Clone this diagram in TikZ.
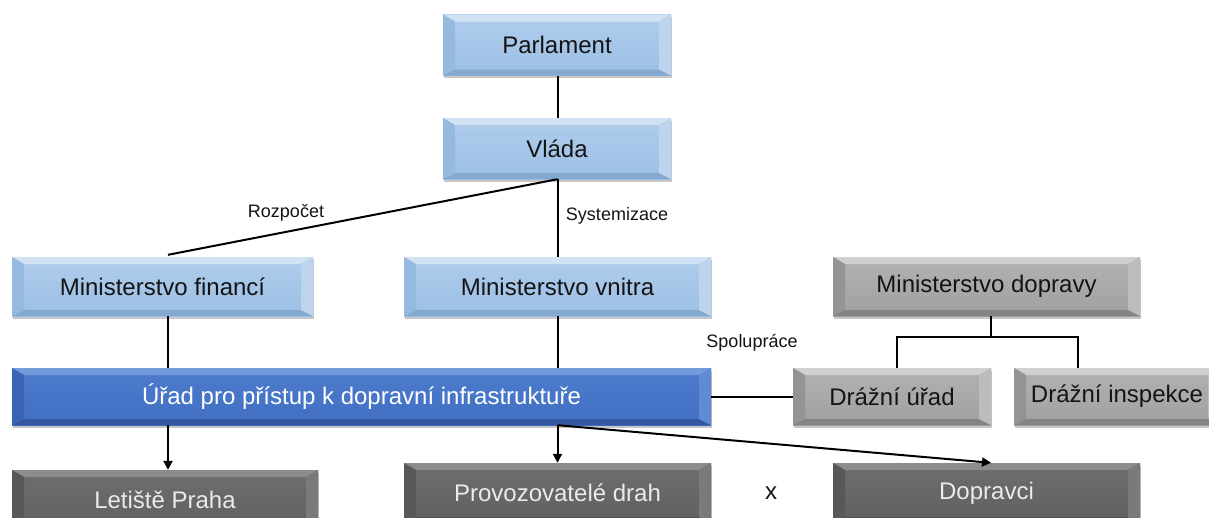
\documentclass[tikz,border=0pt]{standalone}
\usepackage{fontspec}
\setmainfont{Liberation Sans}
\usetikzlibrary{arrows.meta,shadows}
\definecolor{lbM}{RGB}{176,205,236}
\definecolor{lbN}{RGB}{155,191,229}
\definecolor{lbT}{RGB}{208,226,244}
\definecolor{lbL}{RGB}{150,185,222}
\definecolor{lbR}{RGB}{188,212,238}
\definecolor{lbB}{RGB}{132,168,208}
\definecolor{dbM}{RGB}{78,124,205}
\definecolor{dbN}{RGB}{64,110,193}
\definecolor{dbT}{RGB}{115,155,220}
\definecolor{dbL}{RGB}{58,100,180}
\definecolor{dbR}{RGB}{96,138,212}
\definecolor{dbB}{RGB}{50,88,160}
\definecolor{lgM}{RGB}{178,178,178}
\definecolor{lgN}{RGB}{160,160,160}
\definecolor{lgT}{RGB}{208,208,208}
\definecolor{lgL}{RGB}{148,148,148}
\definecolor{lgR}{RGB}{188,188,188}
\definecolor{lgB}{RGB}{132,132,132}
\definecolor{dgM}{RGB}{110,110,110}
\definecolor{dgN}{RGB}{96,96,96}
\definecolor{dgT}{RGB}{140,140,140}
\definecolor{dgL}{RGB}{88,88,88}
\definecolor{dgR}{RGB}{122,122,122}
\definecolor{dgB}{RGB}{78,78,78}
\definecolor{txt}{RGB}{20,20,20}
\tikzset{
  bev/.style n args={6}{rectangle, inner sep=0pt, top color=#1, bottom color=#6,
    font=\fontsize{24}{28}\selectfont,
    drop shadow={shadow xshift=1pt,shadow yshift=-2.5pt,opacity=0.22,fill=black},
    path picture={
      \path (path picture bounding box.north west) coordinate (bnw)
            (path picture bounding box.north east) coordinate (bne)
            (path picture bounding box.south west) coordinate (bsw)
            (path picture bounding box.south east) coordinate (bse);
      \fill[#2] (bnw) -- (bne) -- ([xshift=-12pt,yshift=-7pt]bne) -- ([xshift=12pt,yshift=-7pt]bnw) -- cycle;
      \fill[#5] (bsw) -- (bse) -- ([xshift=-12pt,yshift=6pt]bse) -- ([xshift=12pt,yshift=6pt]bsw) -- cycle;
      \fill[#3] (bnw) -- ([xshift=12pt,yshift=-7pt]bnw) -- ([xshift=12pt,yshift=6pt]bsw) -- (bsw) -- cycle;
      \fill[#4] (bne) -- ([xshift=-12pt,yshift=-7pt]bne) -- ([xshift=-12pt,yshift=6pt]bse) -- (bse) -- cycle;
    }},
  lightblue/.style={bev={lbM}{lbT}{lbL}{lbR}{lbB}{lbN}, text=txt},
  darkblue/.style={bev={dbM}{dbT}{dbL}{dbR}{dbB}{dbN}, text=white},
  lightgray/.style={bev={lgM}{lgT}{lgL}{lgR}{lgB}{lgN}, text=txt},
  darkgray/.style={bev={dgM}{dgT}{dgL}{dgR}{dgB}{dgN}, text=white!92!black},
  conn/.style={line width=2pt, draw=black},
  arr/.style={conn, -{Triangle[length=9pt,width=9pt]}},
  lbl/.style={font=\fontsize{18}{21}\selectfont, text=txt, inner sep=0pt},
}
\begin{document}
\begin{tikzpicture}[x=1pt,y=-1pt]
\useasboundingbox (0,0) rectangle (1209,517);
\clip (0,0) rectangle (1209,517);
\fill[white] (0,0) rectangle (1209,517);

\node[lightblue, minimum width=228pt, minimum height=61pt] (par) at (557,45) {Parlament};
\node[lightblue, minimum width=228pt, minimum height=61pt] (vla) at (557,148.5) {Vláda};
\node[lightblue, minimum width=301pt, minimum height=59pt] (mf) at (162.5,286.5) {Ministerstvo financí};
\node[lightblue, minimum width=307pt, minimum height=59pt] (mv) at (557.5,286.5) {Ministerstvo vnitra};
\node[lightgray, minimum width=307pt, minimum height=59pt] (md) at (986.5,286.5) {Ministerstvo dopravy};
\node[darkblue, minimum width=699pt, minimum height=57pt] (ur) at (361.5,396.5) {Úřad pro přístup k dopravní infrastruktuře};
\node[lightgray, minimum width=198pt, minimum height=57pt] (du) at (892,396.5) {Drážní úřad};
\node[lightgray, minimum width=206pt, minimum height=57pt] (di) at (1117,396.5) {Drážní inspekce};
\node[darkgray, minimum width=306pt, minimum height=60pt] (lp) at (165,500) {Letiště Praha};
\node[darkgray, minimum width=307pt, minimum height=60pt] (pd) at (557.5,493) {Provozovatelé drah};
\node[darkgray, minimum width=307pt, minimum height=60pt] (dp) at (986.5,493) {Dopravci};

\coordinate (cf) at (168,0);
\coordinate (cv) at (557.5,0);
\coordinate (cd) at (991,0);
\coordinate (cdu) at (897,0);
\coordinate (cdi) at (1078,0);
\coordinate (hy) at (0,337);

\draw[conn] (par.south -| cv) -- (vla.north -| cv);
\draw[conn] (vla.south -| cv) -- (mv.north -| cv);
\draw[conn] (vla.south -| cv) -- ([yshift=2pt]mf.north -| cf);
\draw[conn] (mf.south -| cf) -- (ur.north -| cf);
\draw[conn] (mv.south -| cv) -- (ur.north -| cv);
\draw[arr] (ur.south -| cf) -- (lp.north -| cf);
\draw[arr] (ur.south -| cv) -- (pd.north -| cv);
\draw[arr] (ur.south -| cv) -- (dp.north -| cd);
\draw[conn] (ur.east) -- (du.west);
\draw[conn] (md.south -| cd) -- (hy -| cd);
\draw[conn] (du.north -| cdu) -- (hy -| cdu) -- (hy -| cdi) -- (di.north -| cdi);

\node[lbl] (rozp) at (286,213) {Rozpočet};
\node[lbl] (syst) at (617,216) {Systemizace};
\node[lbl] (spol) at (752,343) {Spolupráce};
\node[lbl, font=\fontsize{24}{28}\selectfont] (xx) at (771,493) {x};
\end{tikzpicture}
\end{document}
